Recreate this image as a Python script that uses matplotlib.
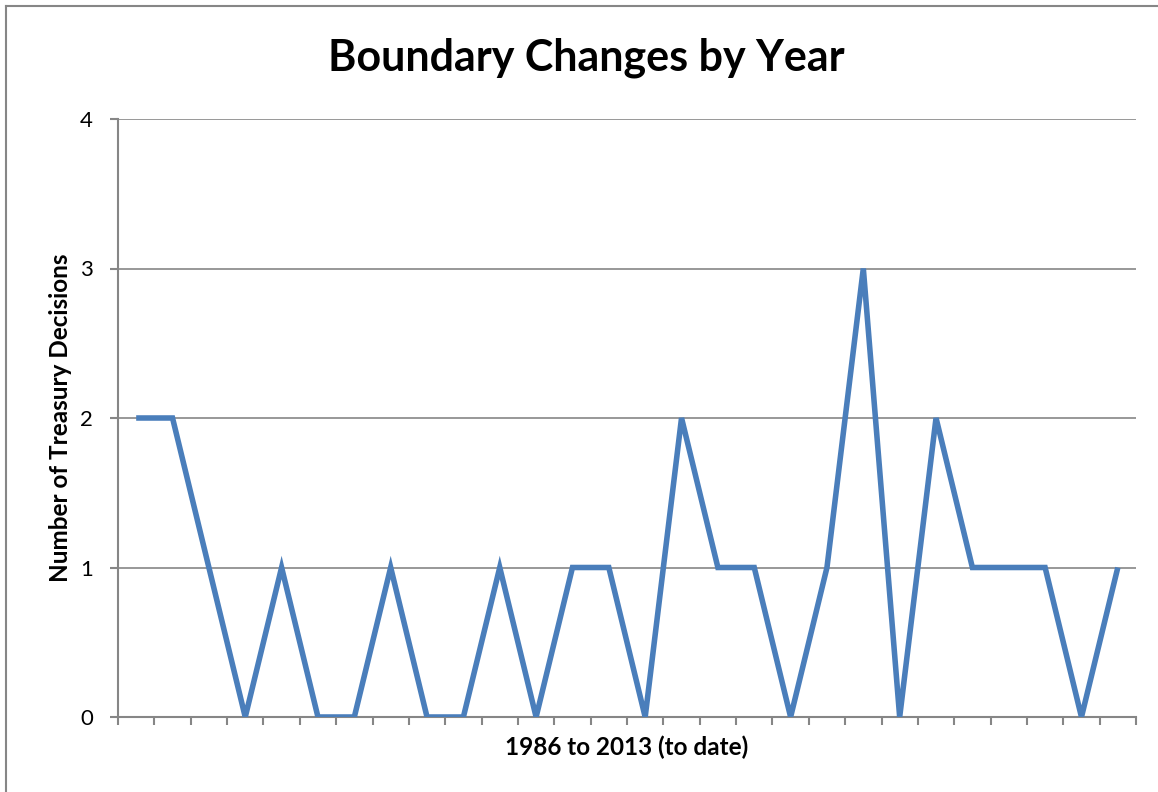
import matplotlib
matplotlib.use("Agg")
import matplotlib.pyplot as plt
import numpy as np

# ------------------ DATA ------------------
years = list(range(1986, 2014))
decisions = [2, 2, 1, 0, 1, 0, 0, 1, 0, 0, 1, 0, 1, 1,
             0, 2, 1, 1, 0, 1, 3, 0, 2, 1, 1, 1, 0, 1]

title = "Boundary Changes by Year"
xlabel = "1986 to 2013 (to date)"
ylabel = "Number of Treasury Decisions"

# ------------------ PLOT ------------------
plt.rcParams['font.family'] = ['Lato', 'DejaVu Sans']

axis_grey = '#868686'
line_blue = '#4A7EBB'

fig = plt.figure(figsize=(11.58, 7.92), dpi=100)
ax = fig.add_axes([118 / 1158, 1 - 717 / 792, (1136 - 118) / 1158, (717 - 119) / 792])

x = np.arange(len(years))
ax.plot(x, decisions, color=line_blue, linewidth=4.0, solid_joinstyle='miter',
        solid_capstyle='butt', zorder=3)

ax.set_xlim(-0.5, len(years) - 0.5)
ax.set_ylim(0, 4)
ax.set_yticks([0, 1, 2, 3, 4])
ax.set_xticks(np.arange(-0.5, len(years), 1.0))
ax.set_xticklabels([])
ax.yaxis.grid(True, color=axis_grey, linewidth=1.2)
ax.set_axisbelow(True)

for side in ['top', 'right']:
    ax.spines[side].set_visible(False)
for side in ['left', 'bottom']:
    ax.spines[side].set_color(axis_grey)
    ax.spines[side].set_linewidth(1.5)

ax.tick_params(axis='x', direction='out', length=6, width=1.5, color=axis_grey)
ax.tick_params(axis='y', direction='out', length=6, width=1.5, color=axis_grey,
               labelsize=16, pad=12)

ax.set_xlabel(xlabel, fontsize=17.5, fontweight='bold', labelpad=4)
ax.set_ylabel(ylabel, fontsize=17.5, fontweight='bold', labelpad=6)

fig.text(586 / 1158, 1 - 58 / 792, title, ha='center', va='center',
         fontsize=31, fontweight='bold')

# chart area border (left and top edges visible in the crop)
fig.add_artist(plt.Line2D([6 / 1158, 6 / 1158], [0, 1 - 6 / 792],
                          transform=fig.transFigure, color=axis_grey, linewidth=1.5))
fig.add_artist(plt.Line2D([6 / 1158, 1], [1 - 6 / 792, 1 - 6 / 792],
                          transform=fig.transFigure, color=axis_grey, linewidth=1.5))

fig.savefig('out.png', dpi=100)
